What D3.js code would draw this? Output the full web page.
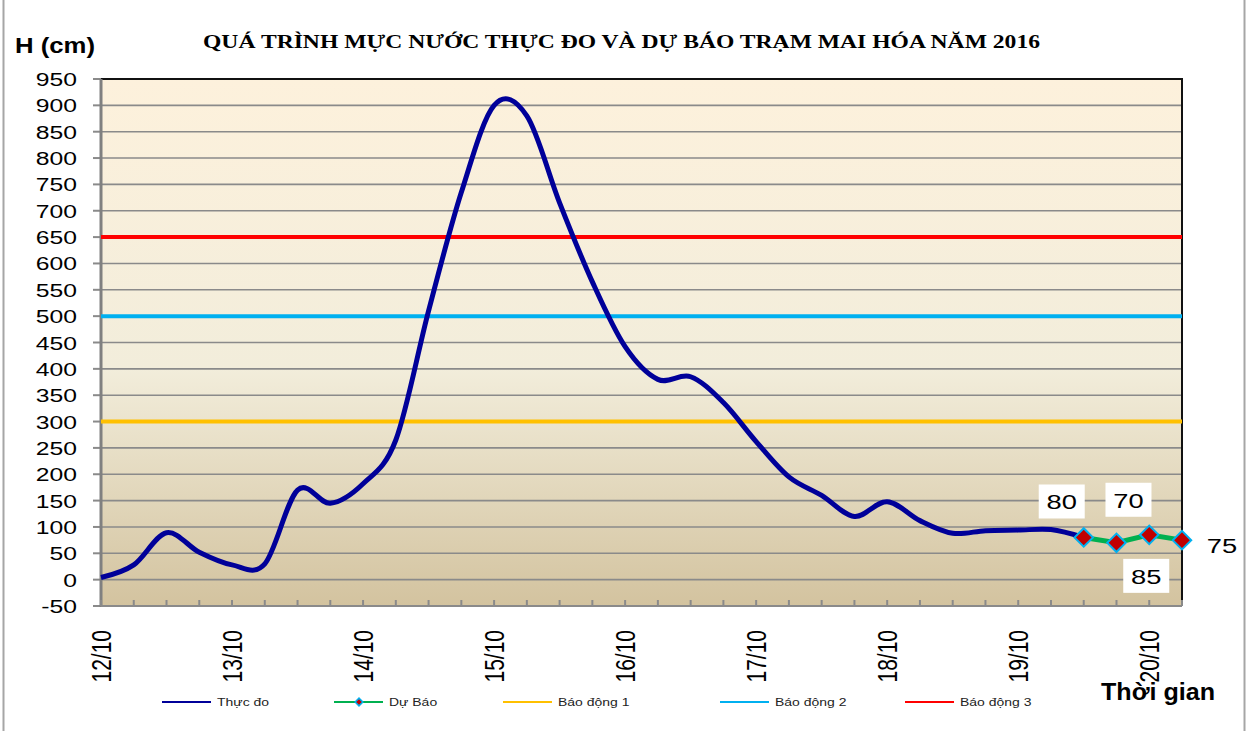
<!DOCTYPE html>
<meta charset="utf-8">
<script src="https://d3js.org/d3.v7.min.js"></script>
<style>
  body { margin: 0; background: #fff; }
  text { font-family: "Liberation Sans", Arial, sans-serif; }
</style>
<div id="chart"></div>
<script>
  // categories: 6-hourly steps, 12/10 to 20/10
  const times = [
    "12/10 00h", "12/10 06h", "12/10 12h", "12/10 18h",
    "13/10 00h", "13/10 06h", "13/10 12h", "13/10 18h",
    "14/10 00h", "14/10 06h", "14/10 12h", "14/10 18h",
    "15/10 00h", "15/10 06h", "15/10 12h", "15/10 18h",
    "16/10 00h", "16/10 06h", "16/10 12h", "16/10 18h",
    "17/10 00h", "17/10 06h", "17/10 12h", "17/10 18h",
    "18/10 00h", "18/10 06h", "18/10 12h", "18/10 18h",
    "19/10 00h", "19/10 06h", "19/10 12h", "19/10 18h",
    "20/10 00h", "20/10 06h"
  ];
  const dayLabels = ["12/10", "13/10", "14/10", "15/10", "16/10", "17/10", "18/10", "19/10", "20/10"];

  // Thực đo (observed), cm
  const observed = [4, 28, 89, 52, 28, 30, 170, 145, 182, 265, 510, 735, 900, 880, 715, 565,
    442, 380, 385, 336, 262, 195, 160, 120, 148, 112, 88, 93, 94, 95, 80];
  // Dự báo (forecast), starting at 19/10 12h
  const forecast = [80, 70, 85, 75];
  const forecastStart = 30;

  // alarm levels
  const alarms = [
    { name: "Báo động 1", value: 300, color: "#FFC000" },
    { name: "Báo động 2", value: 500, color: "#00B0F0" },
    { name: "Báo động 3", value: 650, color: "#FF0000" }
  ];
  const yTicks = d3.range(-50, 951, 50);

  const W = 1254, H = 731;
  const margin = { top: 79, right: 72, bottom: 125, left: 101 };
  const width = W - margin.left - margin.right,
    height = H - margin.top - margin.bottom;
  const sx = 1.3; // horizontal stretch of the original picture

  const svg = d3.select("#chart").append("svg")
    .attr("width", W).attr("height", H);

  // outer frame
  svg.append("rect")
    .attr("x", 3.5).attr("y", -5).attr("width", 1241).attr("height", H + 10)
    .attr("fill", "none").attr("stroke", "#a6a6a6").attr("stroke-width", 2);

  const defs = svg.append("defs");
  const grad = defs.append("linearGradient").attr("id", "bg")
    .attr("x1", 0).attr("y1", 0).attr("x2", 0).attr("y2", 1);
  grad.append("stop").attr("offset", "0%").attr("stop-color", "#FDF1DC");
  grad.append("stop").attr("offset", "55%").attr("stop-color", "#F2EDDB");
  grad.append("stop").attr("offset", "100%").attr("stop-color", "#D3C39F");

  const g = svg.append("g")
    .attr("transform", `translate(${margin.left},${margin.top})`);

  const x = d3.scalePoint().domain(times).range([0, width]);
  const y = d3.scaleLinear().domain([-50, 950]).range([height, 0]);

  g.append("rect").attr("width", width).attr("height", height).attr("fill", "url(#bg)");

  // grid lines
  g.selectAll(".grid").data(yTicks).join("line")
    .attr("x1", 0).attr("x2", width)
    .attr("y1", d => y(d)).attr("y2", d => y(d))
    .attr("stroke", "#8a8a8a").attr("stroke-width", 1.6);

  // top and right border
  g.append("path")
    .attr("d", `M0,0H${width}V${height}`)
    .attr("fill", "none").attr("stroke", "#111").attr("stroke-width", 2);

  // y axis
  g.selectAll(".ytick").data(yTicks).join("line")
    .attr("x1", -8).attr("x2", 0)
    .attr("y1", d => y(d)).attr("y2", d => y(d))
    .attr("stroke", "#8a8a8a").attr("stroke-width", 2);
  g.selectAll(".ylab").data(yTicks).join("text")
    .attr("transform", d => `translate(-24,${y(d) + 7}) scale(${sx},1)`)
    .attr("text-anchor", "end")
    .attr("font-size", 19)
    .attr("fill", "#000")
    .text(d => d);
  g.append("line").attr("x1", 0).attr("x2", 0).attr("y1", 0).attr("y2", height + 1)
    .attr("stroke", "#808080").attr("stroke-width", 3);

  // x axis
  g.append("line").attr("x1", 0).attr("x2", width).attr("y1", height).attr("y2", height)
    .attr("stroke", "#8a8a8a").attr("stroke-width", 2);
  g.selectAll(".xtick").data(times).join("line")
    .attr("x1", d => x(d)).attr("x2", d => x(d))
    .attr("y1", height - 6).attr("y2", height)
    .attr("stroke", "#8a8a8a").attr("stroke-width", 2);
  g.selectAll(".xlab").data(dayLabels).join("text")
    .attr("transform", d => `translate(${x(d + " 00h") + 10},${height + 24}) scale(${sx},1) rotate(-90)`)
    .attr("text-anchor", "end")
    .attr("font-size", 21)
    .text(d => d);

  // alarm lines
  g.selectAll(".alarm").data(alarms).join("line")
    .attr("x1", 0).attr("x2", width)
    .attr("y1", d => y(d.value)).attr("y2", d => y(d.value))
    .attr("stroke", d => d.color).attr("stroke-width", 4);

  const curve = d3.line()
    .curve(d3.curveCatmullRom.alpha(0))
    .x(d => x(times[d[0]]))
    .y(d => y(d[1]));

  // observed line
  g.append("path")
    .datum(observed.map((v, i) => [i, v]))
    .attr("fill", "none").attr("stroke", "#000099").attr("stroke-width", 5)
    .attr("stroke-linejoin", "round")
    .attr("d", curve);

  // forecast line
  const fc = forecast.map((v, i) => [forecastStart + i, v]);
  g.append("path")
    .datum(fc)
    .attr("fill", "none").attr("stroke", "#00B050").attr("stroke-width", 5)
    .attr("d", d3.line().x(d => x(times[d[0]])).y(d => y(d[1])));

  const diamond = d3.symbol().type(d3.symbolDiamond2 || d3.symbolDiamond).size(260);
  g.selectAll(".mk").data(fc).join("path")
    .attr("transform", d => `translate(${x(times[d[0]])},${y(d[1])}) rotate(45)`)
    .attr("d", d3.symbol().type(d3.symbolSquare).size(170))
    .attr("fill", "#C00000").attr("stroke", "#00B0F0").attr("stroke-width", 2);

  // data labels (offsets from each point)
  const labelOffsets = [[-22, -36], [12, -43], [-3, 41], [40, 5]];
  const lab = g.selectAll(".dl").data(fc).join("g")
    .attr("transform", (d, i) => `translate(${x(times[d[0]]) + labelOffsets[i][0]},${y(d[1]) + labelOffsets[i][1]})`);
  lab.append("rect")
    .attr("x", -23).attr("y", -17).attr("width", 46).attr("height", 34)
    .attr("fill", (d, i) => i === 3 ? "none" : "#fff");
  lab.append("text")
    .attr("transform", `translate(0,8) scale(${sx},1)`)
    .attr("text-anchor", "middle").attr("font-size", 21)
    .text(d => d[1]);

  // title and axis titles
  svg.append("text")
    .attr("x", 203).attr("y", 48)
    .attr("textLength", 837).attr("lengthAdjust", "spacingAndGlyphs")
    .style("font-family", "'Liberation Serif', 'Times New Roman', serif")
    .attr("font-weight", "bold").attr("font-size", 19)
    .text("QUÁ TRÌNH MỰC NƯỚC THỰC ĐO VÀ DỰ BÁO TRẠM MAI HÓA  NĂM 2016");

  svg.append("text")
    .attr("x", 15).attr("y", 53)
    .attr("textLength", 80).attr("lengthAdjust", "spacingAndGlyphs")
    .attr("font-weight", "bold").attr("font-size", 22)
    .text("H (cm)");

  svg.append("text")
    .attr("x", 1101).attr("y", 700)
    .attr("textLength", 114).attr("lengthAdjust", "spacingAndGlyphs")
    .attr("font-weight", "bold").attr("font-size", 23)
    .text("Thời gian");

  // legend
  const legendItems = [
    { name: "Thực đo", color: "#000099", x: 162, marker: false },
    { name: "Dự Báo", color: "#00B050", x: 334, marker: true },
    { name: alarms[0].name, color: alarms[0].color, x: 503, marker: false },
    { name: alarms[1].name, color: alarms[1].color, x: 720, marker: false },
    { name: alarms[2].name, color: alarms[2].color, x: 905, marker: false }
  ];
  const leg = svg.selectAll(".leg").data(legendItems).join("g")
    .attr("transform", d => `translate(${d.x},702)`);
  leg.append("line").attr("x1", 0).attr("x2", 49)
    .attr("stroke", d => d.color).attr("stroke-width", 2);
  leg.filter(d => d.marker).append("path")
    .attr("transform", "translate(25,0) rotate(45)")
    .attr("d", d3.symbol().type(d3.symbolSquare).size(30))
    .attr("fill", "#C00000").attr("stroke", "#00B0F0").attr("stroke-width", 1.5);
  leg.append("text")
    .attr("transform", `translate(55,4) scale(1.27,1)`)
    .attr("font-size", 11).attr("fill", "#222")
    .text(d => d.name);
</script>
